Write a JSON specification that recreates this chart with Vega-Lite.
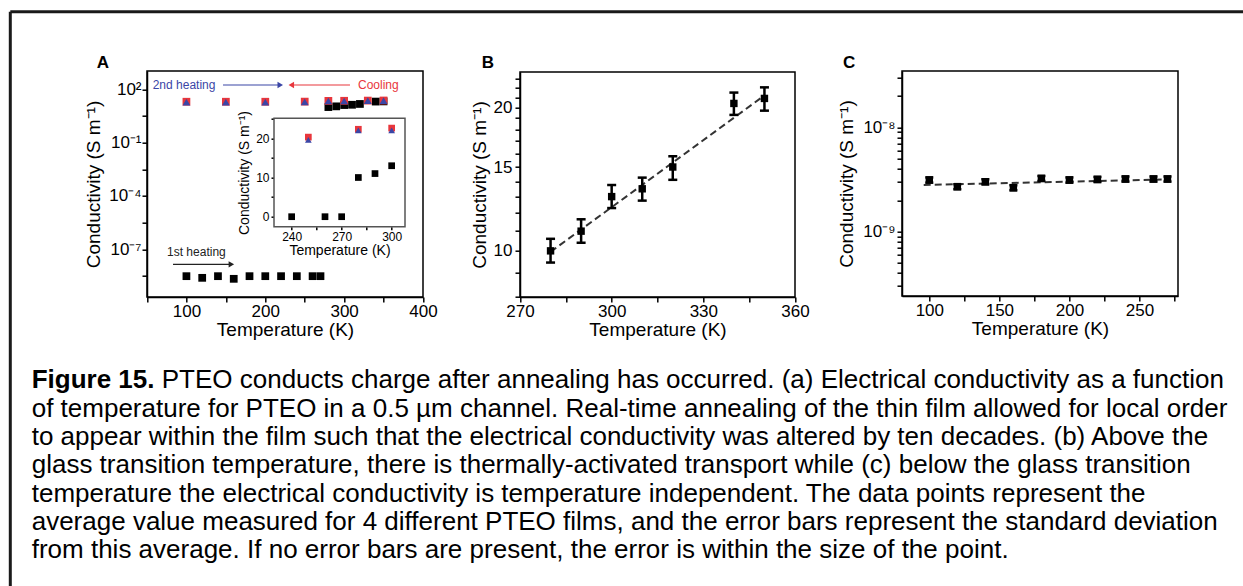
{
  "$schema": "https://vega.github.io/schema/vega-lite/v6.json",
  "autosize": {"type": "none"},
  "padding": {"left": 10.3, "top": 11.7, "right": 0, "bottom": 0},
  "width": 1232.7,
  "height": 574.3,
  "background": "white",
  "config": {
    "font": "Liberation Sans",
    "view": {"stroke": null},
    "axis": {"grid": false, "labelFont": "Liberation Sans", "titleFont": "Liberation Sans", "labelColor": "black", "titleColor": "black", "domainColor": "black", "tickColor": "black", "domainWidth": 1.5, "tickWidth": 1.5, "tickSize": 5, "labelFontSize": 17, "titleFontSize": 19, "titleFontWeight": "normal", "labelFlush": false, "labelOverlap": false, "labelPadding": 1, "titlePadding": 1}
  },
  "datasets": {
    "A": [
      {"T": 100, "s": 3.1e-9, "series": "1st heating"},
      {"T": 120, "s": 2.5e-9, "series": "1st heating"},
      {"T": 140, "s": 3.1e-9, "series": "1st heating"},
      {"T": 160, "s": 2.2e-9, "series": "1st heating"},
      {"T": 180, "s": 3.1e-9, "series": "1st heating"},
      {"T": 200, "s": 3.1e-9, "series": "1st heating"},
      {"T": 220, "s": 3.1e-9, "series": "1st heating"},
      {"T": 240, "s": 3.1e-9, "series": "1st heating"},
      {"T": 260, "s": 3.1e-9, "series": "1st heating"},
      {"T": 270, "s": 3.1e-9, "series": "1st heating"},
      {"T": 280, "s": 10.0, "series": "1st heating"},
      {"T": 290, "s": 11.0, "series": "1st heating"},
      {"T": 300, "s": 13.0, "series": "1st heating"},
      {"T": 310, "s": 13.5, "series": "1st heating"},
      {"T": 320, "s": 15.0, "series": "1st heating"},
      {"T": 340, "s": 20.4, "series": "1st heating"},
      {"T": 350, "s": 20.9, "series": "1st heating"},
      {"T": 100, "s": 20.0, "series": "Cooling"},
      {"T": 150, "s": 20.0, "series": "Cooling"},
      {"T": 200, "s": 20.0, "series": "Cooling"},
      {"T": 250, "s": 20.3, "series": "Cooling"},
      {"T": 280, "s": 22.3, "series": "Cooling"},
      {"T": 300, "s": 22.6, "series": "Cooling"},
      {"T": 330, "s": 23.2, "series": "Cooling"},
      {"T": 350, "s": 23.5, "series": "Cooling"},
      {"T": 100, "s": 19.2, "series": "2nd heating"},
      {"T": 150, "s": 19.2, "series": "2nd heating"},
      {"T": 200, "s": 19.2, "series": "2nd heating"},
      {"T": 250, "s": 19.6, "series": "2nd heating"},
      {"T": 280, "s": 22.0, "series": "2nd heating"},
      {"T": 300, "s": 22.0, "series": "2nd heating"},
      {"T": 330, "s": 22.8, "series": "2nd heating"},
      {"T": 350, "s": 23.0, "series": "2nd heating"}
    ],
    "Ainset": [
      {"Ti": 240, "si": 0, "series": "1st heating"},
      {"Ti": 260, "si": 0, "series": "1st heating"},
      {"Ti": 270, "si": 0, "series": "1st heating"},
      {"Ti": 280, "si": 10, "series": "1st heating"},
      {"Ti": 290, "si": 11, "series": "1st heating"},
      {"Ti": 300, "si": 13, "series": "1st heating"},
      {"Ti": 250, "si": 20.3, "series": "Cooling"},
      {"Ti": 280, "si": 22.3, "series": "Cooling"},
      {"Ti": 300, "si": 22.6, "series": "Cooling"},
      {"Ti": 250, "si": 19.6, "series": "2nd heating"},
      {"Ti": 280, "si": 22.0, "series": "2nd heating"},
      {"Ti": 300, "si": 22.0, "series": "2nd heating"}
    ],
    "B": [
      {"T": 280, "v": 10.0, "lo": 9.45, "hi": 10.6},
      {"T": 290, "v": 11.0, "lo": 10.4, "hi": 11.65},
      {"T": 300, "v": 13.0, "lo": 12.3, "hi": 13.75},
      {"T": 310, "v": 13.5, "lo": 12.75, "hi": 14.25},
      {"T": 320, "v": 15.0, "lo": 14.1, "hi": 15.8},
      {"T": 340, "v": 20.4, "lo": 19.3, "hi": 21.5},
      {"T": 350, "v": 20.9, "lo": 19.7, "hi": 22.05}
    ],
    "Bfit": [
      {"T": 280, "v": 9.95},
      {"T": 350, "v": 21.2}
    ],
    "C": [
      {"T": 100, "v": 3.13e-9, "lo": 2.95e-9, "hi": 3.31e-9},
      {"T": 120, "v": 2.70e-9, "lo": 2.55e-9, "hi": 2.85e-9},
      {"T": 140, "v": 3.01e-9, "lo": 2.84e-9, "hi": 3.18e-9},
      {"T": 160, "v": 2.64e-9, "lo": 2.49e-9, "hi": 2.79e-9},
      {"T": 180, "v": 3.24e-9, "lo": 3.06e-9, "hi": 3.42e-9},
      {"T": 200, "v": 3.13e-9, "lo": 2.95e-9, "hi": 3.31e-9},
      {"T": 220, "v": 3.17e-9, "lo": 2.99e-9, "hi": 3.35e-9},
      {"T": 240, "v": 3.20e-9, "lo": 3.02e-9, "hi": 3.38e-9},
      {"T": 260, "v": 3.20e-9, "lo": 3.02e-9, "hi": 3.38e-9},
      {"T": 270, "v": 3.20e-9, "lo": 3.02e-9, "hi": 3.38e-9}
    ],
    "Cfit": [
      {"T": 96, "v": 2.8e-9},
      {"T": 271, "v": 3.17e-9}
    ],
    "caption": [
      {"line": 1, "part": "label", "text": "Figure 15."},
      {"line": 1, "part": "first", "text": "PTEO conducts charge after annealing has occurred. (a) Electrical conductivity as a function"},
      {"line": 2, "part": "body", "text": "of temperature for PTEO in a 0.5 µm channel. Real-time annealing of the thin film allowed for local order"},
      {"line": 3, "part": "body", "text": "to appear within the film such that the electrical conductivity was altered by ten decades. (b) Above the"},
      {"line": 4, "part": "body", "text": "glass transition temperature, there is thermally-activated transport while (c) below the glass transition"},
      {"line": 5, "part": "body", "text": "temperature the electrical conductivity is temperature independent. The data points represent the"},
      {"line": 6, "part": "body", "text": "average value measured for 4 different PTEO films, and the error bars represent the standard deviation"},
      {"line": 7, "part": "body", "text": "from this average. If no error bars are present, the error is within the size of the point."}
    ]
  },
  "resolve": {"scale": {"x": "independent", "y": "independent"}},
  "layer": [
    {
      "layer": [
        {
          "data": {"values": [{}]},
          "mark": {"type": "rule", "color": "#1a1a1a", "strokeWidth": 3},
          "encoding": {
            "x": {"datum": 0, "type": "quantitative", "scale": {"domain": [0, 1], "range": [0, 1232.7]}, "axis": null},
            "x2": {"datum": 1},
            "y": {"datum": 0, "type": "quantitative", "scale": {"domain": [0, 1], "range": [0, 574.3]}, "axis": null}
          }
        },
        {
          "data": {"values": [{}]},
          "mark": {"type": "rule", "color": "#1a1a1a", "strokeWidth": 3},
          "encoding": {
            "x": {"datum": 0, "type": "quantitative", "scale": {"domain": [0, 1], "range": [0, 1232.7]}, "axis": null},
            "y": {"datum": 0, "type": "quantitative", "scale": {"domain": [0, 1], "range": [0, 574.3]}, "axis": null},
            "y2": {"datum": 1}
          }
        }
      ]
    },
    {
      "layer": [
        {
          "data": {"name": "A"},
          "mark": {"type": "point", "filled": true, "opacity": 1, "size": 60},
          "encoding": {
            "x": {"field": "T", "type": "quantitative", "title": "Temperature (K)", "scale": {"domain": [50, 400], "range": [136.7, 412.7], "nice": false, "zero": false},
                  "axis": {"orient": "bottom", "offset": -289, "values": [50, 100, 150, 200, 250, 300, 350, 400], "labelExpr": "datum.value % 100 == 0 ? datum.label : ''"}},
            "y": {"field": "s", "type": "quantitative", "title": "Conductivity (S m⁻¹)", "scale": {"type": "log", "domain": [2.09e-10, 1070], "range": [285.3, 59.3], "nice": false},
                  "axis": {"orient": "left", "offset": -136.7, "titlePadding": 5, "labelPadding": 1,
                           "values": [100, 3.1622776601683795, 0.1, 0.0031622776601683794, 0.0001, 3.1622776601683795e-6, 1e-7, 3.1622776601683795e-9],
                           "labelExpr": "datum.value == 100 ? '10²' : datum.value == 0.1 ? '10⁻¹' : datum.value == 0.0001 ? '10⁻⁴' : datum.value == 0.0000001 ? '10⁻⁷' : ''"}},
            "color": {"field": "series", "type": "nominal", "scale": {"domain": ["1st heating", "Cooling", "2nd heating"], "range": ["#000000", "#e8363c", "#3b46a6"]}, "legend": null},
            "shape": {"field": "series", "type": "nominal", "scale": {"domain": ["1st heating", "Cooling", "2nd heating"], "range": ["square", "square", "triangle-up"]}, "legend": null}
          }
        },
        {
          "data": {"values": [{}]},
          "mark": {"type": "rect", "fillOpacity": 0, "stroke": "black", "strokeWidth": 1.5},
          "encoding": {"x": {"datum": 50}, "x2": {"datum": 400}, "y": {"datum": 2.09e-10}, "y2": {"datum": 1070}}
        },
        {
          "data": {"values": [{}]},
          "mark": {"type": "text", "align": "left", "baseline": "alphabetic", "fontSize": 17, "fontWeight": "bold", "color": "black"},
          "encoding": {"x": {"datum": -13.8}, "y": {"datum": 1520}, "text": {"value": "A"}}
        },
        {
          "data": {"values": [{}]},
          "mark": {"type": "text", "align": "left", "baseline": "middle", "fontSize": 12, "color": "#3b46a6"},
          "encoding": {"x": {"datum": 57.2}, "y": {"datum": 175}, "text": {"value": "2nd heating"}}
        },
        {
          "data": {"values": [{}]},
          "mark": {"type": "rule", "color": "#3b46a6", "strokeWidth": 1.2},
          "encoding": {"x": {"datum": 146.4}, "x2": {"datum": 218}, "y": {"datum": 175}}
        },
        {
          "data": {"values": [{}]},
          "mark": {"type": "point", "shape": "triangle-right", "filled": true, "size": 40, "opacity": 1, "color": "#3b46a6"},
          "encoding": {"x": {"datum": 219}, "y": {"datum": 175}}
        },
        {
          "data": {"values": [{}]},
          "mark": {"type": "text", "align": "left", "baseline": "middle", "fontSize": 12, "color": "#e8363c"},
          "encoding": {"x": {"datum": 317.6}, "y": {"datum": 175}, "text": {"value": "Cooling"}}
        },
        {
          "data": {"values": [{}]},
          "mark": {"type": "rule", "color": "#e8363c", "strokeWidth": 1.2},
          "encoding": {"x": {"datum": 234}, "x2": {"datum": 307.4}, "y": {"datum": 175}}
        },
        {
          "data": {"values": [{}]},
          "mark": {"type": "point", "shape": "triangle-left", "filled": true, "size": 40, "opacity": 1, "color": "#e8363c"},
          "encoding": {"x": {"datum": 233}, "y": {"datum": 175}}
        },
        {
          "data": {"values": [{}]},
          "mark": {"type": "text", "align": "left", "baseline": "middle", "fontSize": 12, "color": "#222222"},
          "encoding": {"x": {"datum": 75.4}, "y": {"datum": 6.8e-8}, "text": {"value": "1st heating"}}
        },
        {
          "data": {"values": [{}]},
          "mark": {"type": "rule", "color": "#222222", "strokeWidth": 1.2},
          "encoding": {"x": {"datum": 83}, "x2": {"datum": 156}, "y": {"datum": 1.44e-8}}
        },
        {
          "data": {"values": [{}]},
          "mark": {"type": "point", "shape": "triangle-right", "filled": true, "size": 40, "opacity": 1, "color": "#222222"},
          "encoding": {"x": {"datum": 157}, "y": {"datum": 1.44e-8}}
        }
      ]
    },
    {
      "layer": [
        {
          "data": {"values": [{}]},
          "mark": {"type": "rect", "fill": "white", "stroke": "#555555", "strokeWidth": 1.5},
          "encoding": {
            "x": {"datum": 229.4, "type": "quantitative", "title": "Temperature (K)", "scale": {"domain": [229.4, 308], "range": [263.7, 394.7], "nice": false, "zero": false},
                  "axis": {"orient": "bottom", "offset": -359.3, "values": [240, 255, 270, 285, 300], "labelExpr": "datum.value % 30 == 0 ? datum.label : ''", "labelFontSize": 12, "titleFontSize": 14, "tickSize": 3, "domain": false, "titlePadding": 1, "labelPadding": 2}},
            "x2": {"datum": 308},
            "y": {"datum": -2.55, "type": "quantitative", "title": "Conductivity (S m⁻¹)", "scale": {"domain": [-2.55, 25.1], "range": [215, 106.6], "nice": false, "zero": false},
                  "axis": {"orient": "left", "offset": -263.7, "values": [0, 5, 10, 15, 20, 25], "labelExpr": "datum.value % 10 == 0 ? datum.label : ''", "labelFontSize": 12, "titleFontSize": 14, "tickSize": 3, "domain": false, "titlePadding": 4, "labelPadding": 2}},
            "y2": {"datum": 25.1}
          }
        },
        {
          "data": {"name": "Ainset"},
          "mark": {"type": "point", "filled": true, "opacity": 1, "size": 45},
          "encoding": {
            "x": {"field": "Ti", "type": "quantitative", "title": "Temperature (K)", "scale": {"domain": [229.4, 308], "range": [263.7, 394.7], "nice": false, "zero": false}},
            "y": {"field": "si", "type": "quantitative", "title": "Conductivity (S m⁻¹)", "scale": {"domain": [-2.55, 25.1], "range": [215, 106.6], "nice": false, "zero": false}},
            "color": {"field": "series", "type": "nominal", "scale": {"domain": ["1st heating", "Cooling", "2nd heating"], "range": ["#000000", "#e8363c", "#3b46a6"]}, "legend": null},
            "shape": {"field": "series", "type": "nominal", "scale": {"domain": ["1st heating", "Cooling", "2nd heating"], "range": ["square", "square", "triangle-up"]}, "legend": null}
          }
        }
      ]
    },
    {
      "layer": [
        {
          "data": {"name": "Bfit"},
          "mark": {"type": "line", "strokeDash": [7, 4], "color": "#333333", "strokeWidth": 2},
          "encoding": {
            "x": {"field": "T", "type": "quantitative", "title": "Temperature (K)", "scale": {"domain": [270, 360], "range": [509.7, 784.7], "nice": false, "zero": false},
                  "axis": {"orient": "bottom", "offset": -289, "values": [270, 285, 300, 315, 330, 345, 360], "labelExpr": "datum.value % 30 == 0 ? datum.label : ''"}},
            "y": {"field": "v", "type": "quantitative", "title": "Conductivity (S m⁻¹)", "scale": {"type": "log", "domain": [8, 23.75], "range": [285.3, 60.3], "nice": false},
                  "axis": {"orient": "left", "offset": -509.7, "values": [8, 9, 10, 11, 12, 13, 14, 15, 16, 17, 18, 19, 20, 21, 22, 23], "labelExpr": "datum.value == 10 || datum.value == 15 || datum.value == 20 ? datum.label : ''", "titlePadding": 4, "labelPadding": 3}}
          }
        },
        {
          "data": {"values": [{}]},
          "mark": {"type": "rect", "fillOpacity": 0, "stroke": "black", "strokeWidth": 1.5},
          "encoding": {"x": {"datum": 270}, "x2": {"datum": 360}, "y": {"datum": 8}, "y2": {"datum": 23.75}}
        },
        {
          "data": {"values": [{}]},
          "mark": {"type": "text", "align": "left", "baseline": "alphabetic", "fontSize": 17, "fontWeight": "bold", "color": "black"},
          "encoding": {"x": {"datum": 257.5}, "y": {"datum": 24.19}, "text": {"value": "B"}}
        },
        {
          "data": {"name": "B"},
          "mark": {"type": "rule", "color": "black", "strokeWidth": 2.5},
          "encoding": {
            "x": {"field": "T", "type": "quantitative", "title": "Temperature (K)"},
            "y": {"field": "lo", "type": "quantitative", "title": "Conductivity (S m⁻¹)"},
            "y2": {"field": "hi"}
          }
        },
        {
          "data": {"name": "B"},
          "mark": {"type": "tick", "orient": "horizontal", "color": "black", "size": 9, "thickness": 2.5, "opacity": 1},
          "encoding": {
            "x": {"field": "T", "type": "quantitative", "title": "Temperature (K)"},
            "y": {"field": "lo", "type": "quantitative", "title": "Conductivity (S m⁻¹)"}
          }
        },
        {
          "data": {"name": "B"},
          "mark": {"type": "tick", "orient": "horizontal", "color": "black", "size": 9, "thickness": 2.5, "opacity": 1},
          "encoding": {
            "x": {"field": "T", "type": "quantitative", "title": "Temperature (K)"},
            "y": {"field": "hi", "type": "quantitative", "title": "Conductivity (S m⁻¹)"}
          }
        },
        {
          "data": {"name": "B"},
          "mark": {"type": "point", "shape": "square", "filled": true, "size": 55, "opacity": 1, "color": "black"},
          "encoding": {
            "x": {"field": "T", "type": "quantitative", "title": "Temperature (K)"},
            "y": {"field": "v", "type": "quantitative", "title": "Conductivity (S m⁻¹)"}
          }
        }
      ]
    },
    {
      "layer": [
        {
          "data": {"name": "Cfit"},
          "mark": {"type": "line", "strokeDash": [7, 4], "color": "#333333", "strokeWidth": 2},
          "encoding": {
            "x": {"field": "T", "type": "quantitative", "title": "Temperature (K)", "scale": {"domain": [80.5, 277.5], "range": [891.7, 1167.7], "nice": false, "zero": false},
                  "axis": {"orient": "bottom", "offset": -290, "values": [100, 125, 150, 175, 200, 225, 250, 275], "labelExpr": "datum.value % 50 == 0 ? datum.label : ''"}},
            "y": {"field": "v", "type": "quantitative", "title": "Conductivity (S m⁻¹)", "scale": {"type": "log", "domain": [2.415e-10, 3.47e-8], "range": [284.3, 59.3], "nice": false},
                  "axis": {"orient": "left", "offset": -891.7, "values": [3e-10, 4e-10, 5e-10, 6e-10, 7e-10, 8e-10, 9e-10, 1e-9, 2e-9, 3e-9, 4e-9, 5e-9, 6e-9, 7e-9, 8e-9, 9e-9, 1e-8, 2e-8, 3e-8],
                           "labelExpr": "datum.value == 0.00000001 ? '10⁻⁸' : datum.value == 0.000000001 ? '10⁻⁹' : ''", "titlePadding": 6, "labelPadding": 2}}
          }
        },
        {
          "data": {"values": [{}]},
          "mark": {"type": "rect", "fillOpacity": 0, "stroke": "black", "strokeWidth": 1.5},
          "encoding": {"x": {"datum": 80.5}, "x2": {"datum": 277.5}, "y": {"datum": 2.415e-10}, "y2": {"datum": 3.47e-8}}
        },
        {
          "data": {"values": [{}]},
          "mark": {"type": "text", "align": "left", "baseline": "alphabetic", "fontSize": 17, "fontWeight": "bold", "color": "black"},
          "encoding": {"x": {"datum": 38.4}, "y": {"datum": 3.68e-8}, "text": {"value": "C"}}
        },
        {
          "data": {"name": "C"},
          "mark": {"type": "rule", "color": "black", "strokeWidth": 2.5},
          "encoding": {
            "x": {"field": "T", "type": "quantitative", "title": "Temperature (K)"},
            "y": {"field": "lo", "type": "quantitative", "title": "Conductivity (S m⁻¹)"},
            "y2": {"field": "hi"}
          }
        },
        {
          "data": {"name": "C"},
          "mark": {"type": "tick", "orient": "horizontal", "color": "black", "size": 8, "thickness": 2.5, "opacity": 1},
          "encoding": {
            "x": {"field": "T", "type": "quantitative", "title": "Temperature (K)"},
            "y": {"field": "lo", "type": "quantitative", "title": "Conductivity (S m⁻¹)"}
          }
        },
        {
          "data": {"name": "C"},
          "mark": {"type": "tick", "orient": "horizontal", "color": "black", "size": 8, "thickness": 2.5, "opacity": 1},
          "encoding": {
            "x": {"field": "T", "type": "quantitative", "title": "Temperature (K)"},
            "y": {"field": "hi", "type": "quantitative", "title": "Conductivity (S m⁻¹)"}
          }
        },
        {
          "data": {"name": "C"},
          "mark": {"type": "point", "shape": "square", "filled": true, "size": 55, "opacity": 1, "color": "black"},
          "encoding": {
            "x": {"field": "T", "type": "quantitative", "title": "Temperature (K)"},
            "y": {"field": "v", "type": "quantitative", "title": "Conductivity (S m⁻¹)"}
          }
        }
      ]
    },
    {
      "data": {"name": "caption"},
      "layer": [
        {
          "transform": [{"filter": "datum.part == 'label'"}],
          "mark": {"type": "text", "align": "left", "baseline": "alphabetic", "fontSize": 26, "fontWeight": "bold", "color": "black"},
          "encoding": {
            "x": {"value": 21.4},
            "y": {"field": "line", "type": "quantitative", "scale": {"domain": [1, 7], "range": [376.6, 546.6]}, "axis": null},
            "text": {"field": "text"}
          }
        },
        {
          "transform": [{"filter": "datum.part == 'first'"}],
          "mark": {"type": "text", "align": "left", "baseline": "alphabetic", "fontSize": 26, "color": "black"},
          "encoding": {
            "x": {"value": 151.4},
            "y": {"field": "line", "type": "quantitative", "scale": {"domain": [1, 7], "range": [376.6, 546.6]}, "axis": null},
            "text": {"field": "text"}
          }
        },
        {
          "transform": [{"filter": "datum.part == 'body'"}],
          "mark": {"type": "text", "align": "left", "baseline": "alphabetic", "fontSize": 26, "color": "black"},
          "encoding": {
            "x": {"value": 21.4},
            "y": {"field": "line", "type": "quantitative", "scale": {"domain": [1, 7], "range": [376.6, 546.6]}, "axis": null},
            "text": {"field": "text"}
          }
        }
      ]
    }
  ]
}
